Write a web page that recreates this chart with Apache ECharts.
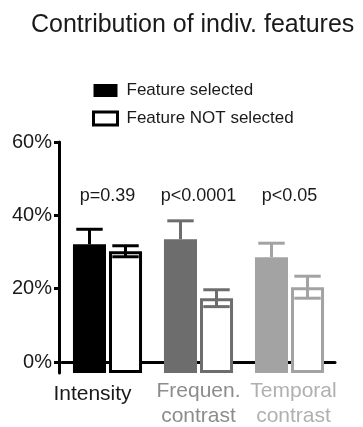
<!DOCTYPE html>
<html>
<head>
<meta charset="utf-8">
<script src="https://cdn.jsdelivr.net/npm/echarts@6/dist/echarts.min.js"></script>
<style>
html,body{margin:0;padding:0;background:#fff;}
#chart{width:363px;height:427px;}
</style>
</head>
<body>
<div id="chart"></div>
<script>
// ---- data ----
const categories = ['Intensity', 'Frequen.\ncontrast', 'Temporal\ncontrast'];
const selectedMean = [32.1, 33.5, 28.6];
const selectedErr = [4.1, 5.0, 3.8];
const notSelectedMean = [30.2, 17.4, 20.4];
const notSelectedErr = [1.5, 2.3, 3.0];
const pLabels = ['p=0.39', 'p<0.0001', 'p<0.05'];
const yTickValues = [0, 20, 40, 60];

// ---- styling ----
const FONT = '"Liberation Sans", Arial, sans-serif';
const catColors = ['#000000', '#6d6d6d', '#a3a3a3'];
const catLabelColors = ['#1a1a1a', '#8c8c8c', '#b0b0b0'];
const Y_MIN = -3, Y_MAX = 60;
const BAR_FRAC = 0.363, GAP_FRAC = 0.033, CAP_FRAC = 0.8;
const P_LABEL_Y = 45.2;

function geom(api, i) {
  const band = api.size([1, 0])[0];
  return { w: band * BAR_FRAC, gap: band * GAP_FRAC };
}

function renderSelected(params, api) {
  const i = api.value(0), mean = api.value(1), err = api.value(2);
  const c = api.coord([i, mean]);
  const base = api.coord([i, Y_MIN]);
  const top = api.coord([i, mean + err]);
  const g = geom(api, i);
  const x0 = c[0] - g.gap / 2 - g.w;
  const xm = x0 + g.w / 2;
  const cap = g.w * CAP_FRAC;
  const color = catColors[i];
  return {
    type: 'group',
    children: [
      { type: 'rect', shape: { x: x0, y: c[1], width: g.w, height: base[1] - c[1] }, style: { fill: color } },
      { type: 'line', shape: { x1: xm, y1: c[1], x2: xm, y2: top[1] }, style: { stroke: color, lineWidth: 3 } },
      { type: 'line', shape: { x1: xm - cap / 2, y1: top[1], x2: xm + cap / 2, y2: top[1] }, style: { stroke: color, lineWidth: 3 } }
    ]
  };
}

function renderNotSelected(params, api) {
  const i = api.value(0), mean = api.value(1), err = api.value(2);
  const c = api.coord([i, mean]);
  const base = api.coord([i, Y_MIN]);
  const top = api.coord([i, mean + err]);
  const bot = api.coord([i, mean - err]);
  const g = geom(api, i);
  const lw = 3;
  const x0 = c[0] + g.gap / 2;
  const xm = x0 + g.w / 2;
  const cap = g.w * CAP_FRAC;
  const color = catColors[i];
  return {
    type: 'group',
    children: [
      { type: 'rect', shape: { x: x0 + lw / 2, y: c[1] + lw / 2, width: g.w - lw, height: base[1] - c[1] - lw }, style: { fill: '#fff', stroke: color, lineWidth: lw } },
      { type: 'line', shape: { x1: xm, y1: bot[1], x2: xm, y2: top[1] }, style: { stroke: color, lineWidth: 3 } },
      { type: 'line', shape: { x1: xm - cap / 2, y1: top[1], x2: xm + cap / 2, y2: top[1] }, style: { stroke: color, lineWidth: 3 } },
      { type: 'line', shape: { x1: xm - cap / 2, y1: bot[1], x2: xm + cap / 2, y2: bot[1] }, style: { stroke: color, lineWidth: 3 } }
    ]
  };
}

function renderPLabel(params, api) {
  const i = api.value(0);
  const p = api.coord([i, P_LABEL_Y]);
  return {
    type: 'text',
    x: p[0], y: p[1],
    style: { text: pLabels[i], fill: '#1a1a1a', font: '18px ' + FONT, align: 'center', verticalAlign: 'middle' }
  };
}

const chart = echarts.init(document.getElementById('chart'), null, { renderer: 'canvas' });

chart.setOption({
  animation: false,
  backgroundColor: '#fff',
  textStyle: { fontFamily: FONT },
  title: {
    text: 'Contribution of indiv. features',
    left: 31, top: 13, padding: 0,
    textStyle: { fontSize: 25, fontWeight: 'normal', color: '#1a1a1a', fontFamily: FONT }
  },
  legend: {
    orient: 'vertical',
    left: 92, top: 82, padding: 0,
    itemWidth: 24, itemHeight: 13, itemGap: 11,
    textStyle: { fontSize: 17, color: '#1a1a1a', fontFamily: FONT, padding: [0, 0, 0, 4] },
    data: [
      { name: 'Feature selected', icon: 'rect', itemStyle: { color: '#000', borderWidth: 0 } },
      { name: 'Feature NOT selected', icon: 'rect', itemStyle: { color: '#fff', borderColor: '#000', borderWidth: 3 } }
    ]
  },
  grid: { left: 62, right: 28, top: 142, bottom: 52 },
  xAxis: {
    type: 'category',
    data: categories,
    axisLine: { lineStyle: { color: '#000', width: 3 } },
    axisTick: { show: false },
    axisLabel: {
      margin: 6,
      interval: 0,
      formatter: function (value, index) {
        return value.split('\n').map(function (l) { return '{c' + index + '|' + l + '}'; }).join('\n');
      },
      rich: {
        c0: { fontSize: 21, lineHeight: 25, color: catLabelColors[0], fontFamily: FONT, padding: [6, 30, 0, 0] },
        c1: { fontSize: 21, lineHeight: 25, color: catLabelColors[1], fontFamily: FONT },
        c2: { fontSize: 21, lineHeight: 25, color: catLabelColors[2], fontFamily: FONT, padding: [0, 0, 0, 8] }
      }
    }
  },
  yAxis: {
    type: 'value',
    min: Y_MIN, max: Y_MAX, interval: 3,
    offset: 3,
    splitLine: { show: false },
    axisLine: { show: true, lineStyle: { color: '#000', width: 3 } },
    axisTick: { show: true, length: 5, lineStyle: { color: '#000', width: 3 }, customValues: yTickValues },
    axisLabel: {
      margin: 7,
      fontSize: 20, color: '#1a1a1a', fontFamily: FONT,
      customValues: yTickValues,
      formatter: function (v) { return v + '%'; }
    }
  },
  series: [
    {
      name: 'Feature selected', type: 'custom', renderItem: renderSelected,
      itemStyle: { color: '#000' },
      encode: { x: 0, y: 1 },
      data: categories.map(function (c, i) { return [i, selectedMean[i], selectedErr[i]]; })
    },
    {
      name: 'Feature NOT selected', type: 'custom', renderItem: renderNotSelected,
      itemStyle: { color: '#fff', borderColor: '#000', borderWidth: 3 },
      encode: { x: 0, y: 1 },
      data: categories.map(function (c, i) { return [i, notSelectedMean[i], notSelectedErr[i]]; })
    },
    {
      name: 'p', type: 'custom', renderItem: renderPLabel,
      encode: { x: 0, y: 1 },
      data: pLabels.map(function (p, i) { return [i, P_LABEL_Y]; })
    }
  ]
});
</script>
</body>
</html>
